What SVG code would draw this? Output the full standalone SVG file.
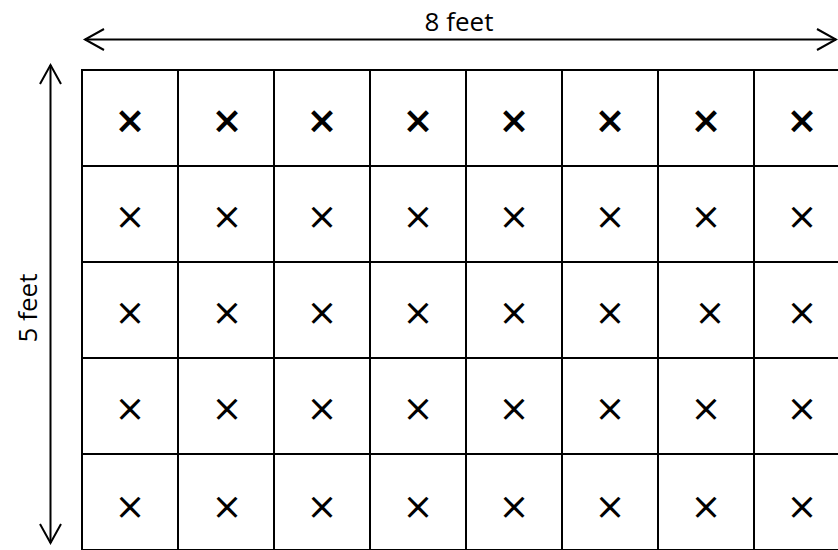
<svg xmlns="http://www.w3.org/2000/svg" width="838" height="550" viewBox="0 0 838 550">
<defs>
<style>
.cell{fill:#fff;stroke:#000;stroke-width:2}
.x{font-family:"DejaVu Sans",sans-serif;font-size:37px;text-anchor:middle;fill:#000}
.b{font-weight:bold}
.lbl{font-family:"Open Sans","Noto Sans",sans-serif;font-size:26px;fill:#000;text-anchor:middle}
.dim{stroke:#000;stroke-width:2;fill:none}
</style>
<marker id="ah" markerUnits="userSpaceOnUse" viewBox="-22 -12 24 24" markerWidth="24" markerHeight="24" refX="0" refY="0" orient="auto-start-reverse" overflow="visible">
<path d="M-19,-10.5 L0,0 L-19,10.5" fill="none" stroke="#000" stroke-width="2"/>
</marker>
</defs>
<rect width="838" height="550" fill="#fff"/>
<g id="grid">
<g id="r1">
<g id="c1-1"><rect class="cell" x="82" y="70" width="96" height="96"/><text class="x b" x="130" y="133">×</text></g>
<g id="c1-2"><rect class="cell" x="178" y="70" width="96" height="96"/><text class="x b" x="227" y="133">×</text></g>
<g id="c1-3"><rect class="cell" x="274" y="70" width="96" height="96"/><text class="x b" x="322" y="133">×</text></g>
<g id="c1-4"><rect class="cell" x="370" y="70" width="96" height="96"/><text class="x b" x="418" y="133">×</text></g>
<g id="c1-5"><rect class="cell" x="466" y="70" width="96" height="96"/><text class="x b" x="514" y="133">×</text></g>
<g id="c1-6"><rect class="cell" x="562" y="70" width="96" height="96"/><text class="x b" x="610" y="133">×</text></g>
<g id="c1-7"><rect class="cell" x="658" y="70" width="96" height="96"/><text class="x b" x="706" y="133">×</text></g>
<g id="c1-8"><rect class="cell" x="754" y="70" width="96" height="96"/><text class="x b" x="802" y="133">×</text></g>
</g>
<g id="r2">
<g id="c2-1"><rect class="cell" x="82" y="166" width="96" height="96"/><text class="x" x="130" y="229">×</text></g>
<g id="c2-2"><rect class="cell" x="178" y="166" width="96" height="96"/><text class="x" x="227" y="229">×</text></g>
<g id="c2-3"><rect class="cell" x="274" y="166" width="96" height="96"/><text class="x" x="322" y="229">×</text></g>
<g id="c2-4"><rect class="cell" x="370" y="166" width="96" height="96"/><text class="x" x="418" y="229">×</text></g>
<g id="c2-5"><rect class="cell" x="466" y="166" width="96" height="96"/><text class="x" x="514" y="229">×</text></g>
<g id="c2-6"><rect class="cell" x="562" y="166" width="96" height="96"/><text class="x" x="610" y="229">×</text></g>
<g id="c2-7"><rect class="cell" x="658" y="166" width="96" height="96"/><text class="x" x="706" y="229">×</text></g>
<g id="c2-8"><rect class="cell" x="754" y="166" width="96" height="96"/><text class="x" x="802" y="229">×</text></g>
</g>
<g id="r3">
<g id="c3-1"><rect class="cell" x="82" y="262" width="96" height="96"/><text class="x" x="130" y="325">×</text></g>
<g id="c3-2"><rect class="cell" x="178" y="262" width="96" height="96"/><text class="x" x="227" y="325">×</text></g>
<g id="c3-3"><rect class="cell" x="274" y="262" width="96" height="96"/><text class="x" x="322" y="325">×</text></g>
<g id="c3-4"><rect class="cell" x="370" y="262" width="96" height="96"/><text class="x" x="418" y="325">×</text></g>
<g id="c3-5"><rect class="cell" x="466" y="262" width="96" height="96"/><text class="x" x="514" y="325">×</text></g>
<g id="c3-6"><rect class="cell" x="562" y="262" width="96" height="96"/><text class="x" x="610" y="325">×</text></g>
<g id="c3-7"><rect class="cell" x="658" y="262" width="96" height="96"/><text class="x" x="710" y="325">×</text></g>
<g id="c3-8"><rect class="cell" x="754" y="262" width="96" height="96"/><text class="x" x="802" y="325">×</text></g>
</g>
<g id="r4">
<g id="c4-1"><rect class="cell" x="82" y="358" width="96" height="96"/><text class="x" x="130" y="421">×</text></g>
<g id="c4-2"><rect class="cell" x="178" y="358" width="96" height="96"/><text class="x" x="227" y="421">×</text></g>
<g id="c4-3"><rect class="cell" x="274" y="358" width="96" height="96"/><text class="x" x="322" y="421">×</text></g>
<g id="c4-4"><rect class="cell" x="370" y="358" width="96" height="96"/><text class="x" x="418" y="421">×</text></g>
<g id="c4-5"><rect class="cell" x="466" y="358" width="96" height="96"/><text class="x" x="514" y="421">×</text></g>
<g id="c4-6"><rect class="cell" x="562" y="358" width="96" height="96"/><text class="x" x="610" y="421">×</text></g>
<g id="c4-7"><rect class="cell" x="658" y="358" width="96" height="96"/><text class="x" x="706" y="421">×</text></g>
<g id="c4-8"><rect class="cell" x="754" y="358" width="96" height="96"/><text class="x" x="802" y="421">×</text></g>
</g>
<g id="r5">
<g id="c5-1"><rect class="cell" x="82" y="454" width="96" height="96"/><text class="x" x="130" y="519">×</text></g>
<g id="c5-2"><rect class="cell" x="178" y="454" width="96" height="96"/><text class="x" x="227" y="519">×</text></g>
<g id="c5-3"><rect class="cell" x="274" y="454" width="96" height="96"/><text class="x" x="322" y="519">×</text></g>
<g id="c5-4"><rect class="cell" x="370" y="454" width="96" height="96"/><text class="x" x="418" y="519">×</text></g>
<g id="c5-5"><rect class="cell" x="466" y="454" width="96" height="96"/><text class="x" x="514" y="519">×</text></g>
<g id="c5-6"><rect class="cell" x="562" y="454" width="96" height="96"/><text class="x" x="610" y="519">×</text></g>
<g id="c5-7"><rect class="cell" x="658" y="454" width="96" height="96"/><text class="x" x="706" y="519">×</text></g>
<g id="c5-8"><rect class="cell" x="754" y="454" width="96" height="96"/><text class="x" x="802" y="519">×</text></g>
</g>
</g>
<g id="connectors">
<line class="dim" x1="85" y1="39.5" x2="836" y2="39.5" marker-start="url(#ah)" marker-end="url(#ah)"/>
<line class="dim" x1="50.5" y1="65" x2="50.5" y2="543" marker-start="url(#ah)" marker-end="url(#ah)"/>
</g>
<g id="labels">
<text class="lbl" x="459" y="31">8 feet</text>
<text class="lbl" transform="translate(37,308) rotate(-90)" x="0" y="0">5 feet</text>
</g>
</svg>
